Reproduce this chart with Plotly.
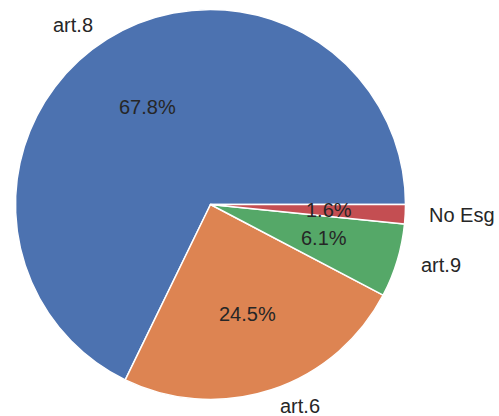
import math
import plotly.graph_objects as go

labels = ["art.8", "art.6", "art.9", "No Esg"]
values = [67.8, 24.5, 6.1, 1.6]
colors = ["#4C72B0", "#DD8452", "#55A868", "#C44E52"]

W, H = 499, 416
cx, cy = 210.5, 204.5          # pie centre in pixels (from top-left)
rx, ry = 197.5, 192.5          # apparent radii in pixels
r = 195

total = sum(values)
# plotly (counterclockwise) puts the first slice clockwise of `rotation`;
# choose rotation so the first slice starts at 3 o'clock going counterclockwise
rot = 90 - values[0] / total * 360

fig = go.Figure()
fig.add_trace(go.Pie(
    labels=labels, values=values, sort=False,
    direction="counterclockwise", rotation=rot,
    marker=dict(colors=colors, line=dict(color="white", width=1.5)),
    textinfo="none", hoverinfo="skip", showlegend=False,
    domain=dict(x=[(cx - r) / W, (cx + r) / W],
                y=[(H - cy - r) / H, (H - cy + r) / H]),
))

start = 0.0
font = dict(family="Liberation Sans, Arial, sans-serif", size=20, color="#262626")
for lab, v in zip(labels, values):
    frac = v / total
    mid = math.radians((start + frac / 2) * 360)
    start += frac
    c, s = math.cos(mid), math.sin(mid)
    # outer label at 1.1 r
    lx = cx + 1.1 * rx * c
    ly = cy - 1.1 * ry * s
    fig.add_annotation(x=lx / W, y=1 - ly / H, xref="paper", yref="paper",
                       text=lab, showarrow=False, font=font,
                       xanchor="left" if c > 0 else "right", yanchor="middle")
    # percentage at 0.6 r
    px = cx + 0.6 * rx * c
    py = cy - 0.6 * ry * s
    fig.add_annotation(x=px / W, y=1 - py / H, xref="paper", yref="paper",
                       text=f"{frac * 100:.1f}%", showarrow=False, font=font,
                       xanchor="center", yanchor="middle")

fig.update_layout(width=W, height=H, margin=dict(l=0, r=0, t=0, b=0),
                  paper_bgcolor="white", plot_bgcolor="white")
fig.write_html("out.html", config={"displayModeBar": False},
               post_script="document.body.style.margin='0';document.body.style.overflow='hidden';")
